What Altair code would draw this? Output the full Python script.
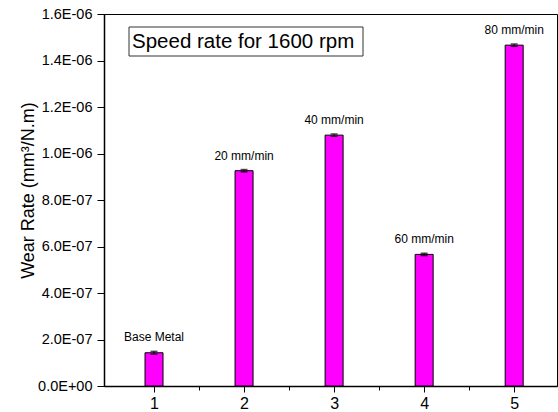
import altair as alt
import pandas as pd

# Data
positions = [1, 2, 3, 4, 5]
wear_rate = [1.43e-07, 9.26e-07, 1.079e-06, 5.66e-07, 1.466e-06]
errors = [6e-09, 5e-09, 5e-09, 5e-09, 5e-09]
bar_labels = ["Base Metal", "20 mm/min", "40 mm/min", "60 mm/min", "80 mm/min"]
y_tick_labels = ["0.0E+00", "2.0E-07", "4.0E-07", "6.0E-07", "8.0E-07",
                 "1.0E-06", "1.2E-06", "1.4E-06", "1.6E-06"]
x_tick_labels = ["1", "2", "3", "4", "5"]
panel_title = "Speed rate for 1600 rpm"

df = pd.DataFrame({
    "pos": positions,
    "wear": wear_rate,
    "err": errors,
    "label": bar_labels,
})
df["lo"] = df["wear"] - df["err"]
df["hi"] = df["wear"] + df["err"]

FONT = "Liberation Sans"

y_vals = [i * 1e-07 for i in range(17)]
y_label_list = ",".join("'" + s + "'" for s in y_tick_labels)
y_label_expr = ("round(datum.value/1e-7) % 2 == 0 ? [" + y_label_list +
                "][round(datum.value/2e-7)] : ''")

x_vals = [1, 1.5, 2, 2.5, 3, 3.5, 4, 4.5, 5]
x_label_list = ",".join("'" + s + "'" for s in x_tick_labels)
x_label_expr = ("datum.value % 1 == 0 ? [" + x_label_list +
                "][round(datum.value) - 1] : ''")

x_scale = alt.Scale(domain=[0.5, 5.42], nice=False, zero=False)
y_scale = alt.Scale(domain=[0, 1.6e-06], nice=False)

x_axis = alt.Axis(
    values=x_vals, labelExpr=x_label_expr, title=None, grid=False,
    domainColor="black", domainWidth=1.5, tickColor="black", tickWidth=1,
    tickSize={"condition": {"test": "datum.value % 1 == 0", "value": 6}, "value": 4},
    labelFont=FONT, labelFontSize=16, labelColor="black", labelPadding=3,
    labelOverlap=False,
)
y_axis = alt.Axis(
    values=y_vals, labelExpr=y_label_expr, grid=False,
    title="Wear Rate (mm³/N.m)", titleFont=FONT, titleFontSize=18,
    titleFontWeight="normal", titleColor="black", titleAngle=-90,
    titleX=-71, titleY=176, titleAlign="center", titleBaseline="alphabetic",
    domainColor="black", domainWidth=1.5, tickColor="black", tickWidth=1,
    tickSize={"condition": {"test": "round(datum.value/1e-7) % 2 == 0", "value": 7}, "value": 4},
    labelFont=FONT, labelFontSize=14.5, labelColor="black", labelPadding=5,
    labelOverlap=False,
)

base = alt.Chart(df)

bars = base.mark_bar(size=18, color="#FF00FF", stroke="black", strokeWidth=1,
                     orient="vertical").encode(
    x=alt.X("pos:Q", scale=x_scale, axis=x_axis),
    y=alt.Y("wear:Q", scale=y_scale, axis=y_axis),
)

err_rule = base.mark_rule(color="black", strokeWidth=1).encode(
    x="pos:Q", y="lo:Q", y2="hi:Q"
)
cap_hi = base.mark_tick(color="black", size=7, thickness=1.5,
                        orient="horizontal").encode(x="pos:Q", y="hi:Q")
cap_lo = base.mark_tick(color="black", size=7, thickness=1.5,
                        orient="horizontal").encode(x="pos:Q", y="lo:Q")

texts = base.mark_text(font=FONT, fontSize=12, color="black",
                       baseline="middle", dy=-14).encode(
    x="pos:Q", y="hi:Q", text="label:N"
)

box = alt.Chart(pd.DataFrame({"t": [panel_title]})).mark_rect(
    fill="white", stroke="#333333", strokeWidth=1
).encode(
    x=alt.value(25), x2=alt.value(259), y=alt.value(13), y2=alt.value(42)
)
box_text = alt.Chart(pd.DataFrame({"t": [panel_title]})).mark_text(
    font=FONT, fontSize=20.5, color="black", align="left", baseline="middle"
).encode(
    x=alt.value(28), y=alt.value(27.5), text="t:N"
)

chart = alt.layer(bars, err_rule, cap_hi, cap_lo, texts, box, box_text).properties(
    width=453, height=372,
    padding={"left": 104, "top": 14, "right": 1, "bottom": 26},
    autosize=alt.AutoSizeParams(type="none"),
    background="white",
).configure_view(stroke="black", strokeWidth=1)

chart.save("out.html", embed_options={"renderer": "svg", "actions": False})
